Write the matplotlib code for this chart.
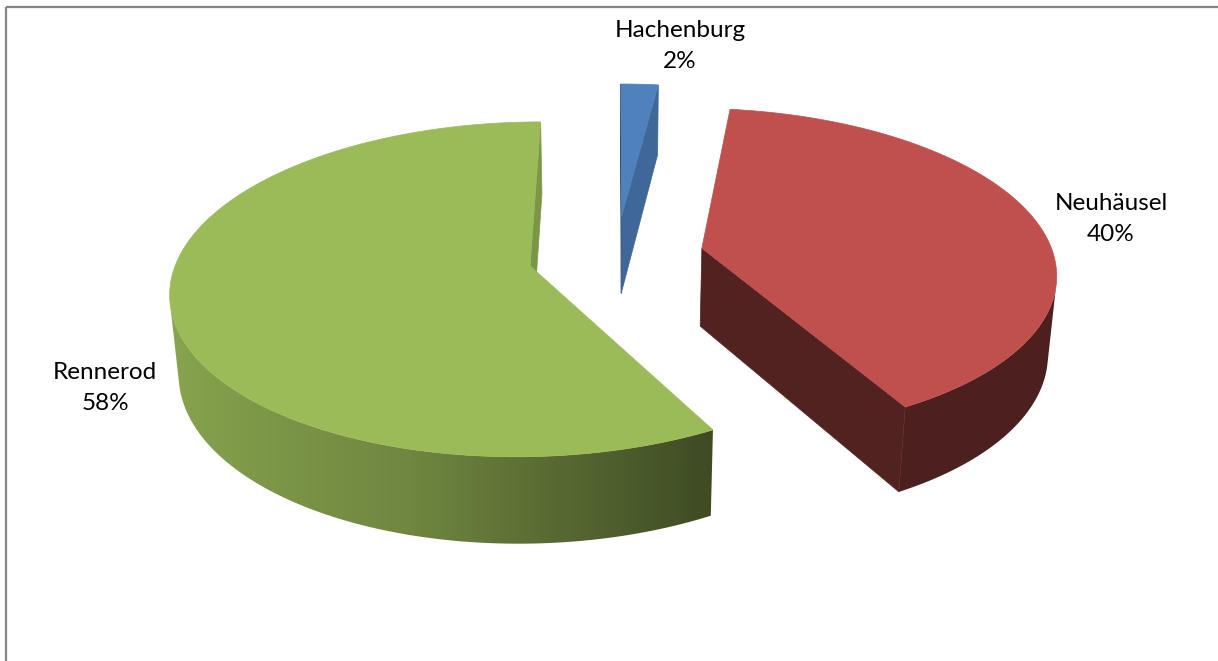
import numpy as np
import matplotlib.pyplot as plt
from matplotlib.colors import to_rgb
from matplotlib.patches import Polygon, Rectangle

# Anteile je Standort (Prozent), Reihenfolge im Uhrzeigersinn ab 12 Uhr
standorte = ['Hachenburg', 'Neuhäusel', 'Rennerod']
anteile = [2, 40, 58]
farben = ['#4F81BD', '#C0504D', '#9BBB59']

# Beschriftungspositionen in Pixeln
label_pos = [(680, 46), (1111, 219), (105, 388)]

W, H = 1218, 661

# Ansicht der 3D-Torte
elev = np.radians(29.3)
dist = 6.4
scale = 345.0
cx, cy = 616.0, 334.0
dicke = 0.255
explode = 0.25


def project(x, zb, h):
    # zb > 0 zeigt nach hinten, h nach oben
    v = h * np.cos(elev) + zb * np.sin(elev)
    t = -zb * np.cos(elev) + h * np.sin(elev)
    s = dist / (dist - t)
    return cx + scale * s * x, cy - scale * s * v


cam = np.array([0.0, -dist * np.cos(elev), dist * np.sin(elev)])


def sichtbar(nx, nz, px, pz):
    return nx * (cam[0] - px) + nz * (cam[1] - pz) > 0


def shade(c, f):
    return tuple(np.array(to_rgb(c)) * f)


def mantel_faktor(cos_n):
    return np.interp(cos_n, [-1.0, -0.26, 0.48, 1.0], [0.89, 0.72, 0.40, 0.40])


fig = plt.figure(figsize=(W / 100, H / 100), dpi=100)
ax = fig.add_axes([0, 0, 1, 1])
ax.axis('off')

# Rahmen der Diagrammfläche
ax.add_patch(Rectangle((5.5, 7), W + 20, H + 20, fill=False,
                       edgecolor='#868686', lw=1.6, zorder=0))

cum = np.concatenate([[0], np.cumsum(anteile)])
tops = []
for i, (name, wert, farbe) in enumerate(zip(standorte, anteile, farben)):
    a0 = np.radians(90 - 360 * cum[i] / 100)
    a1 = np.radians(90 - 360 * cum[i + 1] / 100)
    mid = (a0 + a1) / 2
    ox, oz = explode * np.cos(mid), explode * np.sin(mid)

    n = max(8, int(abs(a0 - a1) / np.radians(0.5)))
    th = np.linspace(a1, a0, n + 1)
    rx = ox + np.cos(th)
    rz = oz + np.sin(th)

    # Mantelfläche: sichtbarer Teil als ein Polygon mit Farbverlauf
    vis = sichtbar(np.cos(th), np.sin(th), rx, rz)
    idx = np.flatnonzero(vis)
    if idx.size > 1:
        runs = np.split(idx, np.flatnonzero(np.diff(idx) > 1) + 1)
        for run in runs:
            if run.size < 2:
                continue
            xt, yt = project(rx[run], rz[run], np.full(run.size, dicke))
            xb, yb = project(rx[run], rz[run], np.zeros(run.size))
            pts = np.column_stack([np.concatenate([xt, xb[::-1]]),
                                   np.concatenate([yt, yb[::-1]])])
            clip = Polygon(pts, closed=True, facecolor='none', edgecolor='none')
            ax.add_patch(clip)
            x0, x1 = pts[:, 0].min(), pts[:, 0].max()
            y0, y1 = pts[:, 1].min(), pts[:, 1].max()
            cols = np.linspace(x0, x1, max(2, int(x1 - x0) + 1))
            order = np.argsort(xt)
            fak = np.interp(cols, xt[order], mantel_faktor(np.cos(th[run]))[order])
            img = np.array(to_rgb(farbe))[None, None, :] * fak[None, :, None]
            im = ax.imshow(img, extent=(x0 - 0.5, x1 + 0.5, y1 + 0.5, y0 - 0.5),
                           aspect='auto', interpolation='bilinear', zorder=2)
            im.set_clip_path(clip)

    # Schnittflächen
    for a, sgn in ((a0, 1), (a1, -1)):
        na = a + sgn * np.pi / 2
        nx, nz = np.cos(na), np.sin(na)
        if not sichtbar(nx, nz, ox, oz):
            continue
        xs = np.array([ox, ox + np.cos(a), ox + np.cos(a), ox])
        zs = np.array([oz, oz + np.sin(a), oz + np.sin(a), oz])
        hs = np.array([dicke, dicke, 0, 0])
        px, py = project(xs, zs, hs)
        col = shade(farbe, 0.6 + 0.2 * np.cos(na))
        ax.add_patch(Polygon(np.column_stack([px, py]), closed=True,
                             facecolor=col, edgecolor=col, lw=0.5, zorder=3))

    # Deckfläche
    tx = np.concatenate([[ox], rx])
    tz = np.concatenate([[oz], rz])
    px, py = project(tx, tz, np.full(tx.shape, dicke))
    tops.append((np.column_stack([px, py]), farbe))

    lx, ly = label_pos[i]
    ax.text(lx, ly, f'{name}\n{wert}%', ha='center', va='center',
            fontsize=17.5, family='Lato', linespacing=1.6, color='black')

for pts, farbe in tops:
    ax.add_patch(Polygon(pts, closed=True, facecolor=farbe,
                         edgecolor=farbe, lw=0.5, zorder=4))

ax.set_xlim(0, W)
ax.set_ylim(H, 0)

fig.savefig('out.png', dpi=100, facecolor='white')
